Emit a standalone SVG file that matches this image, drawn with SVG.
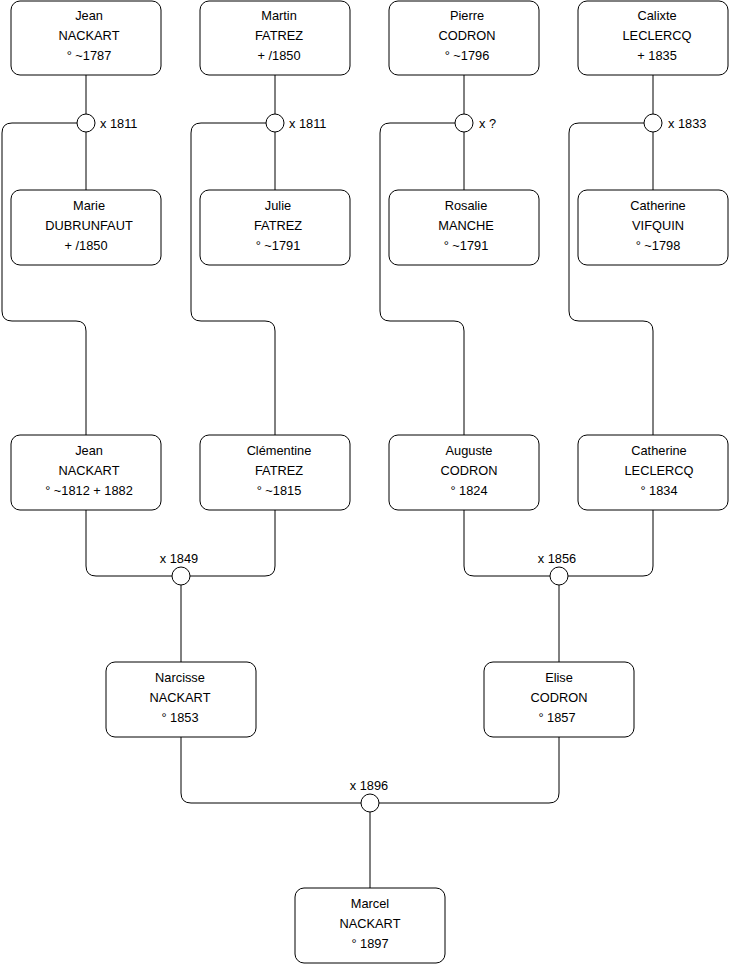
<svg xmlns="http://www.w3.org/2000/svg" width="740" height="975" viewBox="0 0 740 975">
<style>
.n rect{fill:#fff;stroke:#000;stroke-width:1}
text{font-family:"Liberation Sans",Arial,sans-serif;font-size:12.8px;fill:#000}
.n text{text-anchor:middle}
.c path{fill:none;stroke:#000;stroke-width:1}
.c circle{fill:#fff;stroke:#000;stroke-width:1}
.m{text-anchor:middle}
</style>
<rect width="740" height="975" fill="#fff"/>
<g class="c" id="connectors">
<path d="M86 75V114M86 132V190"/>
<path d="M77 123H12Q2 123 2 133V311Q2 321 12 321H76Q86 321 86 331V435"/>
<path d="M275 75V114M275 132V190"/>
<path d="M266 123H201Q191 123 191 133V311Q191 321 201 321H265Q275 321 275 331V435"/>
<path d="M464 75V114M464 132V190"/>
<path d="M455 123H390Q380 123 380 133V311Q380 321 390 321H454Q464 321 464 331V435"/>
<path d="M653 75V114M653 132V190"/>
<path d="M644 123H579Q569 123 569 133V311Q569 321 579 321H643Q653 321 653 331V435"/>
<path d="M86 510V566Q86 576 96 576H172M275 510V566Q275 576 265 576H190M181 585V662"/>
<path d="M464 510V566Q464 576 474 576H550M653 510V566Q653 576 643 576H568M559 585V662"/>
<path d="M181 737V793Q181 803 191 803H361M559 737V793Q559 803 549 803H379M370 812V888"/>
<circle cx="86" cy="123" r="9"/>
<circle cx="275" cy="123" r="9"/>
<circle cx="464" cy="123" r="9"/>
<circle cx="653" cy="123" r="9"/>
<circle cx="181" cy="576" r="9"/>
<circle cx="559" cy="576" r="9"/>
<circle cx="370" cy="803" r="9"/>
<text x="100" y="128">x 1811</text>
<text x="289" y="128">x 1811</text>
<text x="479" y="128">x ?</text>
<text x="668" y="128">x 1833</text>
<text x="179" y="563" class="m">x 1849</text>
<text x="557" y="563" class="m">x 1856</text>
<text x="369" y="790" class="m">x 1896</text>
</g>
<g class="n" id="n1"><rect x="11" y="1" width="150" height="74" rx="9"/><text x="89" y="20">Jean</text><text x="89" y="40">NACKART</text><text x="89" y="60">° ~1787</text></g>
<g class="n" id="n2"><rect x="200" y="1" width="150" height="74" rx="9"/><text x="279" y="20">Martin</text><text x="279" y="40">FATREZ</text><text x="279" y="60">+ /1850</text></g>
<g class="n" id="n3"><rect x="389" y="1" width="150" height="74" rx="9"/><text x="467" y="20">Pierre</text><text x="467" y="40">CODRON</text><text x="467" y="60">° ~1796</text></g>
<g class="n" id="n4"><rect x="578" y="1" width="150" height="74" rx="9"/><text x="657" y="20">Calixte</text><text x="657" y="40">LECLERCQ</text><text x="657" y="60">+ 1835</text></g>
<g class="n" id="n5"><rect x="11" y="190" width="150" height="75" rx="9"/><text x="89" y="210">Marie</text><text x="89" y="230">DUBRUNFAUT</text><text x="86" y="250">+ /1850</text></g>
<g class="n" id="n6"><rect x="200" y="190" width="150" height="75" rx="9"/><text x="278" y="210">Julie</text><text x="278" y="230">FATREZ</text><text x="278" y="250">° ~1791</text></g>
<g class="n" id="n7"><rect x="389" y="190" width="150" height="75" rx="9"/><text x="466" y="210">Rosalie</text><text x="466" y="230">MANCHE</text><text x="466" y="250">° ~1791</text></g>
<g class="n" id="n8"><rect x="578" y="190" width="150" height="75" rx="9"/><text x="658" y="210">Catherine</text><text x="658" y="230">VIFQUIN</text><text x="658" y="250">° ~1798</text></g>
<g class="n" id="n9"><rect x="11" y="435" width="150" height="75" rx="9"/><text x="89" y="455">Jean</text><text x="89" y="475">NACKART</text><text x="89" y="495">° ~1812 + 1882</text></g>
<g class="n" id="n10"><rect x="200" y="435" width="150" height="75" rx="9"/><text x="279" y="455">Clémentine</text><text x="279" y="475">FATREZ</text><text x="279" y="495">° ~1815</text></g>
<g class="n" id="n11"><rect x="389" y="435" width="150" height="75" rx="9"/><text x="469" y="455">Auguste</text><text x="469" y="475">CODRON</text><text x="469" y="495">° 1824</text></g>
<g class="n" id="n12"><rect x="578" y="435" width="150" height="75" rx="9"/><text x="659" y="455">Catherine</text><text x="659" y="475">LECLERCQ</text><text x="659" y="495">° 1834</text></g>
<g class="n" id="n13"><rect x="106" y="662" width="150" height="75" rx="9"/><text x="180" y="682">Narcisse</text><text x="180" y="702">NACKART</text><text x="180" y="722">° 1853</text></g>
<g class="n" id="n14"><rect x="484" y="662" width="150" height="75" rx="9"/><text x="559" y="682">Elise</text><text x="559" y="702">CODRON</text><text x="557" y="722">° 1857</text></g>
<g class="n" id="n15"><rect x="295" y="888" width="150" height="75" rx="9"/><text x="370" y="908">Marcel</text><text x="370" y="928">NACKART</text><text x="370" y="948">° 1897</text></g>
</svg>
